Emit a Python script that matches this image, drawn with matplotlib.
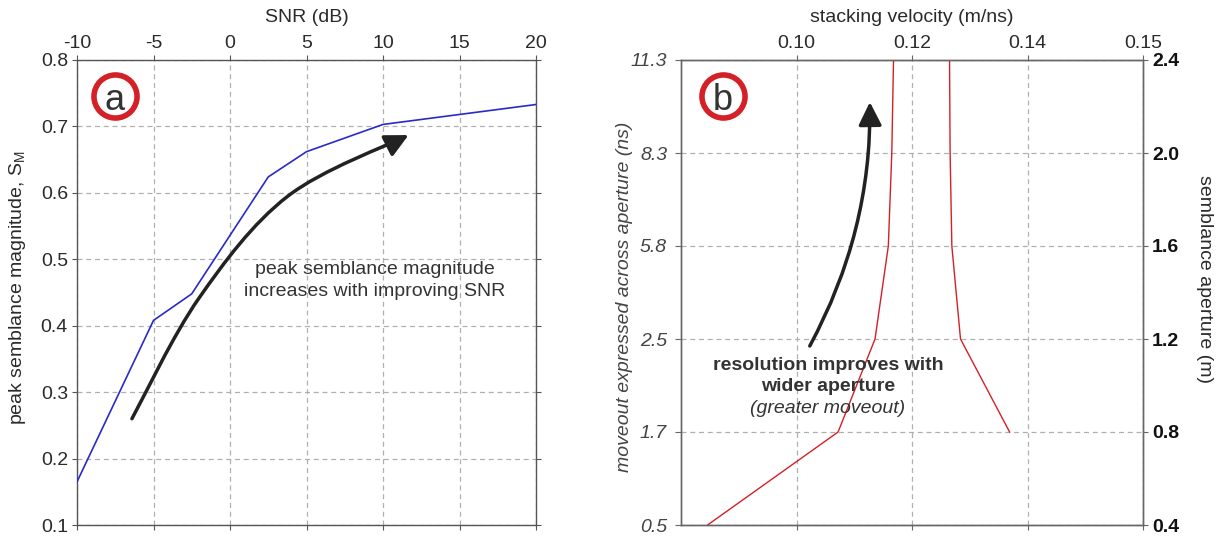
import matplotlib
matplotlib.use('Agg')
import matplotlib.pyplot as plt
import numpy as np
from matplotlib.patches import FancyArrowPatch
from matplotlib.path import Path

plt.rcParams['font.family'] = ['Liberation Sans', 'DejaVu Sans']
plt.rcParams['mathtext.default'] = 'regular'

# ---------------- data ----------------
# panel a
snr_db = [-10, -5, -2.5, 2.5, 5, 10, 20]
peak_semblance = [0.165, 0.408, 0.448, 0.624, 0.662, 0.703, 0.733]
snr_ticks = [-10, -5, 0, 5, 10, 15, 20]
sm_ticks = [0.1, 0.2, 0.3, 0.4, 0.5, 0.6, 0.7, 0.8]

# panel b
aperture_lower = [0.4, 0.8, 1.2, 1.6, 2.0, 2.4]
velocity_lower = [0.0846, 0.1072, 0.1136, 0.1159, 0.1165, 0.1168]
aperture_upper = [0.8, 1.2, 1.6, 2.0, 2.4]
velocity_upper = [0.1369, 0.1284, 0.1269, 0.1266, 0.1265]
aperture_ticks = [0.4, 0.8, 1.2, 1.6, 2.0, 2.4]
aperture_labels = ['0.4', '0.8', '1.2', '1.6', '2.0', '2.4']
moveout_labels = ['0.5', '1.7', '2.5', '5.8', '8.3', '11.3']
velocity_tick_pos = [0.10, 0.12, 0.14, 0.16]
velocity_tick_labels = ['0.10', '0.12', '0.14', '0.15']

# annotation arrow guide points (panel a), in data units
arrow_a_x = [-6.41, -2.05, 3.75, 11.67]
arrow_a_y = [0.26, 0.4408, 0.5945, 0.687]


def smooth_path(xs, ys):
    pts = np.column_stack([xs, ys]).astype(float)
    n = len(pts)
    verts = [pts[0]]
    codes = [Path.MOVETO]
    for i in range(n - 1):
        p0 = pts[i - 1] if i > 0 else pts[i]
        p1 = pts[i]
        p2 = pts[i + 1]
        p3 = pts[i + 2] if i + 2 < n else pts[i + 1]
        c1 = p1 + (p2 - p0) / 6.0
        c2 = p2 - (p3 - p1) / 6.0
        verts += [c1, c2, p2]
        codes += [Path.CURVE4] * 3
    return Path(np.array(verts), codes)


# ---------------- figure ----------------
W, H = 1219, 538
fig = plt.figure(figsize=(W / 100, H / 100), dpi=100)
ax1 = fig.add_axes([77 / W, 13 / H, 459 / W, 465 / H])
ax2 = fig.add_axes([681 / W, 13 / H, 462 / W, 465 / H])

grid_kw = dict(color='#b0b0b0', linestyle=(0, (4, 3)), linewidth=0.9)
text_col = '#2a2a2a'
red = '#d42027'

# ---------- panel a ----------
ax1.plot(snr_db, peak_semblance, color='#2a2ac8', lw=1.2, zorder=3)
ax1.set_xlim(-10, 20)
ax1.set_ylim(0.1, 0.8)
ax1.set_xticks(snr_ticks, [str(t) for t in snr_ticks])
ax1.set_yticks(sm_ticks, ['%.1f' % t for t in sm_ticks])
ax1.grid(True, **grid_kw)
ax1.set_axisbelow(True)
ax1.tick_params(axis='x', top=True, bottom=True, labeltop=True, labelbottom=False,
                direction='out', length=3.5, width=0.8, pad=2, labelsize=14,
                labelcolor=text_col, color='#555555')
ax1.tick_params(axis='y', left=True, right=True, labelleft=True, labelright=False,
                direction='out', length=3.5, width=0.8, pad=3, labelsize=14,
                labelcolor=text_col, color='#555555')
for s in ax1.spines.values():
    s.set_color('#555555')
    s.set_linewidth(1.0)
ax1.set_xlabel('SNR (dB)', fontsize=14, color=text_col)
ax1.xaxis.set_label_position('top')
ax1.xaxis.set_label_coords(0.5, (525 - 18) / 465)
ax1.xaxis.label.set_va('center')
ax1.set_ylabel(r'peak semblance magnitude, S$_\mathregular{M}$', fontsize=14, color=text_col)
ax1.yaxis.set_label_coords((18 - 77) / 459, 0.51)
ax1.yaxis.label.set_va('center')

arrow_a = FancyArrowPatch(path=smooth_path(arrow_a_x, arrow_a_y),
                          arrowstyle='-|>,head_length=1.0,head_width=0.5',
                          mutation_scale=14, lw=2.5, color='#222222', zorder=4)
ax1.add_patch(arrow_a)
ax1.text(9.48, 0.4839, 'peak semblance magnitude', fontsize=14, color='#333333',
         ha='center', va='center')
ax1.text(9.48, 0.4512, 'increases with improving SNR', fontsize=14, color='#333333',
         ha='center', va='center')

ax1.plot([(115 - 77) / 459], [(525 - 96) / 465], 'o', ms=31, mfc='white', mec=red,
         mew=4.0, transform=ax1.transAxes, clip_on=False, zorder=5)
ax1.text((115 - 77) / 459, (525 - 96) / 465, 'a', fontsize=26, color='#333333',
         ha='center', va='center_baseline', transform=ax1.transAxes, zorder=6)

# ---------- panel b ----------
ax2.plot(velocity_lower, aperture_lower, color=red, lw=1.0, zorder=3)
ax2.plot(velocity_upper, aperture_upper, color=red, lw=1.0, zorder=3)
ax2.set_xlim(0.08, 0.16)
ax2.set_ylim(0.4, 2.4)
ax2.set_xticks(velocity_tick_pos, velocity_tick_labels)
ax2.set_yticks(aperture_ticks, moveout_labels)
ax2.grid(True, **grid_kw)
ax2.set_axisbelow(True)
ax2.tick_params(axis='x', top=True, bottom=True, labeltop=True, labelbottom=False,
                direction='out', length=3.5, width=0.8, pad=2, labelsize=14,
                labelcolor=text_col, color='#666666')
ax2.tick_params(axis='y', left=True, right=False, labelleft=True,
                direction='out', length=4, width=0.8, pad=6, labelsize=14,
                labelcolor='#444444', color='#666666')
for lab in ax2.get_yticklabels():
    lab.set_fontstyle('italic')
for s in ax2.spines.values():
    s.set_color('#666666')
    s.set_linewidth(1.0)
ax2.set_xlabel('stacking velocity (m/ns)', fontsize=14, color=text_col)
ax2.xaxis.set_label_position('top')
ax2.xaxis.set_label_coords(0.5, (525 - 18) / 465)
ax2.xaxis.label.set_va('center')
ax2.set_ylabel('moveout expressed across aperture (ns)', fontsize=14,
               color='#444444', style='italic')
ax2.yaxis.set_label_coords((625 - 681) / 462, 0.49)
ax2.yaxis.label.set_va('center')

ax2r = ax2.twinx()
ax2r.set_ylim(0.4, 2.4)
ax2r.set_yticks(aperture_ticks, aperture_labels)
ax2r.tick_params(axis='y', direction='out', length=3.5, width=0.8, pad=3,
                 labelsize=14, labelcolor='#111111', color='#666666')
for lab in ax2r.get_yticklabels():
    lab.set_fontweight('bold')
for s in ax2r.spines.values():
    s.set_color('#666666')
    s.set_linewidth(1.0)
ax2r.set_ylabel('semblance aperture (m)', fontsize=14, color=text_col,
                rotation=-90)
ax2r.yaxis.set_label_coords((1204 - 681) / 462, 0.53)
ax2r.yaxis.label.set_va('center')

arrow_b = FancyArrowPatch((0.1023, 1.170), (0.1127, 2.219),
                          connectionstyle='arc3,rad=0.13',
                          arrowstyle='-|>,head_length=1.0,head_width=0.5',
                          mutation_scale=14, lw=2.5, color='#222222',
                          shrinkA=0, shrinkB=0, zorder=4)
ax2.add_patch(arrow_b)
ax2.text(0.10546, 1.088, 'resolution improves with', fontsize=14, color='#333333',
         fontweight='bold', ha='center', va='center')
ax2.text(0.10546, 0.995, 'wider aperture', fontsize=14, color='#333333',
         fontweight='bold', ha='center', va='center')
ax2.text(0.10546, 0.899, '(greater moveout)', fontsize=14, color='#333333',
         style='italic', ha='center', va='center')

ax2.plot([(723 - 681) / 462], [(525 - 96) / 465], 'o', ms=31, mfc='white', mec=red,
         mew=4.0, transform=ax2.transAxes, clip_on=False, zorder=5)
ax2.text((723 - 681) / 462, (525 - 96) / 465, 'b', fontsize=26, color='#333333',
         ha='center', va='center_baseline', transform=ax2.transAxes, zorder=6)

fig.savefig('out.png', dpi=100)
